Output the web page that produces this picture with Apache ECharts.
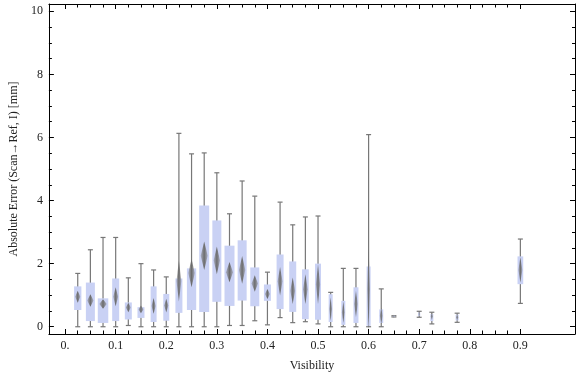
<!DOCTYPE html>
<html>
<head>
<meta charset="utf-8">
<script src="https://cdn.jsdelivr.net/npm/echarts@6/dist/echarts.min.js"></script>
<style>
  html, body { margin: 0; padding: 0; background: #fff; }
  #chart { width: 576px; height: 377px; }
</style>
</head>
<body>
<div id="chart"></div>
<script>
// visibility bins (x) and the box-whisker statistics
const visibility = [0.025, 0.05, 0.075, 0.1, 0.125, 0.15, 0.175, 0.2, 0.225, 0.25,
  0.275, 0.3, 0.325, 0.35, 0.375, 0.4, 0.425, 0.45, 0.475, 0.5,
  0.525, 0.55, 0.575, 0.6, 0.625, 0.65, 0.7, 0.725, 0.775, 0.9]
const whiskerLow = [0.0, 0.0, 0.0, 0.0, 0.04, 0.0, 0.0, 0.0, 0.0, 0.0,
  0.0, 0.0, 0.04, 0.04, 0.19, 0.06, 0.29, 0.13, 0.16, 0.09,
  0.0, 0.0, 0.0, 0.0, 0.0, 0.31, 0.30, 0.09, 0.14, 0.74]
const quart1 = [0.53, 0.18, 0.12, 0.18, 0.23, 0.28, 0.15, 0.19, 0.44, 0.53,
  0.47, 0.79, 0.66, 0.83, 0.65, 0.82, 0.56, 0.47, 0.24, 0.22,
  0.15, 0.06, 0.12, 0.03, 0.12, 0.31, 0.34, 0.18, 0.20, 1.35]
const center = [0.95, 0.83, 0.72, 0.95, 0.61, 0.55, 0.66, 0.67, 1.45, 1.70,
  2.25, 2.10, 1.73, 1.80, 1.37, 1.04, 1.44, 1.14, 1.19, 1.35,
  0.56, 0.46, 0.72, 1.20, 0.35, 0.33, 0.40, 0.33, 0.30, 1.80]
const quart3 = [1.28, 1.40, 0.90, 1.53, 0.77, 0.62, 1.28, 1.04, 1.53, 1.85,
  3.84, 3.37, 2.57, 2.74, 1.88, 1.34, 2.29, 2.07, 1.82, 2.00,
  1.03, 0.82, 1.25, 1.91, 0.55, 0.35, 0.45, 0.40, 0.38, 2.23]
const whiskerHigh = [1.69, 2.44, 2.83, 2.83, 1.55, 2.00, 1.80, 1.58, 6.13, 5.48,
  5.51, 4.88, 3.58, 4.62, 4.14, 1.73, 3.95, 3.23, 3.48, 3.51,
  1.09, 1.85, 1.85, 6.09, 1.20, 0.35, 0.49, 0.46, 0.43, 2.78]
// half height of the confidence diamond
const diamondHalf = [0.19, 0.20, 0.15, 0.30, 0.15, 0.12, 0.25, 0.22, 0.65, 0.45,
  0.45, 0.44, 0.32, 0.44, 0.26, 0.16, 0.45, 0.42, 0.47, 0.63,
  0.37, 0.34, 0.42, 1.30, 0.26, 0.05, 0.08, 0.12, 0.10, 0.40]
// relative box width (sample weight)
const binWeight = [0.73, 0.90, 1.05, 0.70, 0.70, 0.70, 0.60, 0.60, 0.70, 0.93,
  1.00, 0.90, 1.00, 0.90, 0.90, 0.70, 0.70, 0.70, 0.67, 0.60,
  0.40, 0.40, 0.50, 0.40, 0.40, 0.20, 0.20, 0.30, 0.30, 0.57]

const xMajor = [0, 0.1, 0.2, 0.3, 0.4, 0.5, 0.6, 0.7, 0.8, 0.9]
const xLabels = ['0.', '0.1', '0.2', '0.3', '0.4', '0.5', '0.6', '0.7', '0.8', '0.9']
const yMajor = [0, 2, 4, 6, 8, 10]
const yLabels = ['0', '2', '4', '6', '8', '10']

const xMinor = []
for (let i = 0; i <= 36; i++) if (i % 4 !== 0) xMinor.push(+(i * 0.025).toFixed(3))
const yMinor = []
for (let i = 0; i <= 20; i++) if (i % 4 !== 0) yMinor.push(i * 0.5)

const rows = visibility.map((v, i) => [v, whiskerLow[i], quart1[i], center[i],
  quart3[i], whiskerHigh[i], diamondHalf[i], binWeight[i]])

const BOX_PX = 10
const CAP_PX = 5
const lineCol = '#777'
const font = 'Liberation Serif, Times New Roman, serif'

function renderItem (params, api) {
  const x = api.value(0)
  const lo = api.coord([x, api.value(1)])
  const q1 = api.coord([x, api.value(2)])
  const q3 = api.coord([x, api.value(4)])
  const hi = api.coord([x, api.value(5)])
  const dTop = api.coord([x, api.value(3) + api.value(6)])
  const dMid = api.coord([x, api.value(3)])
  const dBot = api.coord([x, api.value(3) - api.value(6)])
  const bw = api.value(7) * BOX_PX
  const dw = bw * 0.7
  const cx = lo[0]
  const lstyle = { stroke: lineCol, lineWidth: 1.2 }
  return {
    type: 'group',
    children: [
      { type: 'line', shape: { x1: cx, y1: lo[1], x2: cx, y2: hi[1] }, style: lstyle },
      { type: 'line', shape: { x1: cx - CAP_PX / 2, y1: lo[1], x2: cx + CAP_PX / 2, y2: lo[1] }, style: lstyle },
      { type: 'line', shape: { x1: cx - CAP_PX / 2, y1: hi[1], x2: cx + CAP_PX / 2, y2: hi[1] }, style: lstyle },
      { type: 'rect', shape: { x: cx - bw / 2, y: q3[1], width: bw, height: Math.max(q1[1] - q3[1], 1) },
        style: { fill: '#c9d1f4' } },
      { type: 'polygon',
        shape: { points: [[cx, dTop[1]], [cx + dw / 2, dMid[1]], [cx, dBot[1]], [cx - dw / 2, dMid[1]]] },
        style: {
          fill: new echarts.graphic.LinearGradient(0, 0, 1, 0, [
            { offset: 0, color: 'rgba(118,118,118,0.4)' },
            { offset: 0.5, color: 'rgba(108,108,108,1)' },
            { offset: 1, color: 'rgba(118,118,118,0.4)' }
          ])
        } }
    ]
  }
}

function pick (vals, labels) {
  return v => {
    let best = 0
    vals.forEach((t, i) => { if (Math.abs(t - v) < Math.abs(vals[best] - v)) best = i })
    return labels[best]
  }
}

const xRange = { min: -0.032, max: 1.008 }
const yRange = { min: -0.23, max: 10.23 }

function axisLine (withLine) {
  return { show: withLine, onZero: false, lineStyle: { color: '#000', width: 1 } }
}

function xAx (pos, ticks, len, withLabel, withLine) {
  return {
    type: 'value', position: pos, ...xRange,
    axisLine: axisLine(withLine),
    axisTick: { show: true, inside: true, length: len, customValues: ticks, lineStyle: { color: '#000' } },
    axisLabel: withLabel
      ? { show: true, customValues: xMajor, formatter: pick(xMajor, xLabels), color: '#222', fontFamily: font, fontSize: 12, margin: 6 }
      : { show: false },
    splitLine: { show: false }
  }
}
function yAx (pos, ticks, len, withLabel, withLine) {
  return {
    type: 'value', position: pos, ...yRange,
    axisLine: axisLine(withLine),
    axisTick: { show: true, inside: true, length: len, customValues: ticks, lineStyle: { color: '#000' } },
    axisLabel: withLabel
      ? { show: true, customValues: yMajor, formatter: pick(yMajor, yLabels), color: '#222', fontFamily: font, fontSize: 12, margin: 6 }
      : { show: false },
    splitLine: { show: false }
  }
}

const xAxes = [
  xAx('bottom', xMajor, 5, true, true),
  xAx('bottom', xMinor, 3.5, false, false),
  xAx('top', xMajor, 5, false, true),
  xAx('top', xMinor, 3.5, false, false)
]
xAxes[0].name = 'Visibility'
xAxes[0].nameLocation = 'middle'
xAxes[0].nameGap = 26
xAxes[0].nameTextStyle = { color: '#222', fontFamily: font, fontSize: 12 }

const yAxes = [
  yAx('left', yMajor, 5, true, true),
  yAx('left', yMinor, 3, false, false),
  yAx('right', yMajor, 5, false, true),
  yAx('right', yMinor, 3, false, false)
]
yAxes[0].name = 'Absolute Error (Scan\u2192Ref, I) [mm]'
yAxes[0].nameLocation = 'middle'
yAxes[0].nameGap = 27
yAxes[0].nameTextStyle = { color: '#222', fontFamily: font, fontSize: 12 }

const chart = echarts.init(document.getElementById('chart'), null, { renderer: 'canvas' })
chart.setOption({
  animation: false,
  backgroundColor: '#fff',
  grid: { left: 36, top: 4, width: 539, height: 333, containLabel: false },
  xAxis: xAxes,
  yAxis: yAxes,
  series: [{
    type: 'custom',
    xAxisIndex: 0,
    yAxisIndex: 0,
    renderItem: renderItem,
    data: rows,
    clip: true
  }]
})
</script>
</body>
</html>
